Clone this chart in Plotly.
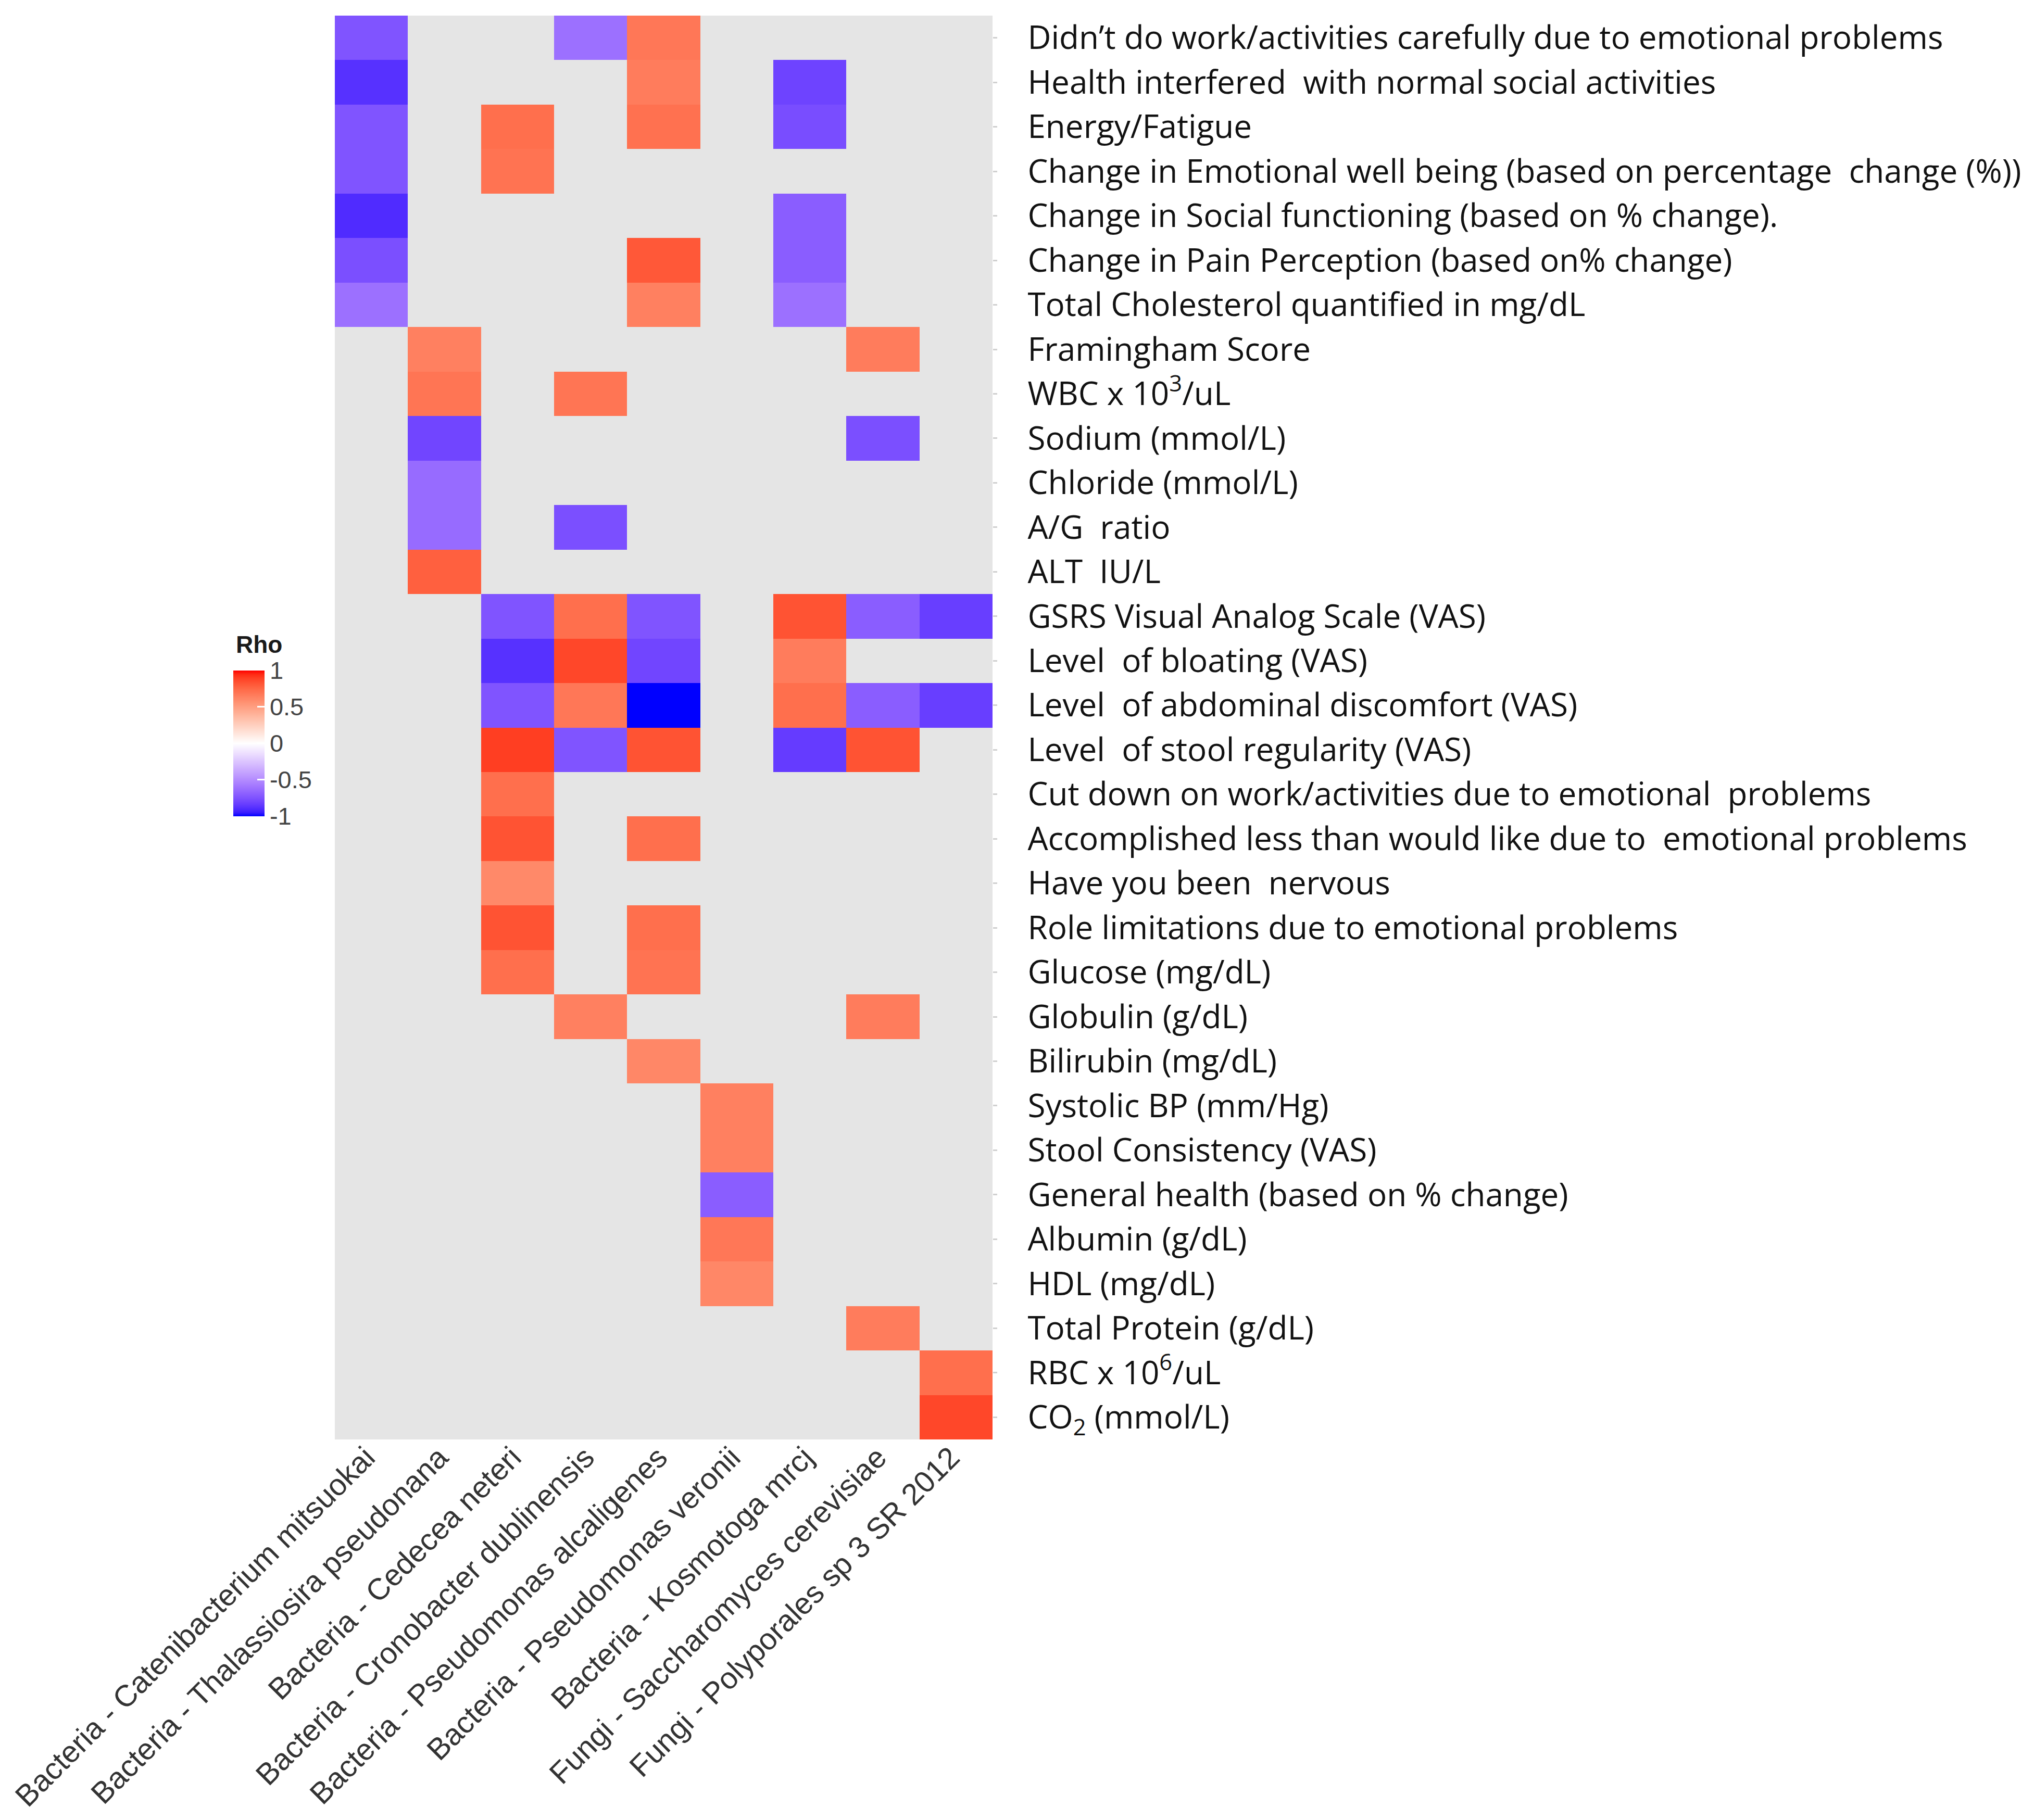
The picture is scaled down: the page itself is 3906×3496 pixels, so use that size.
import numpy as np
import plotly.graph_objects as go

# ---------------- data ----------------
rows = [
    "Didn’t do work/activities carefully due to emotional problems",
    "Health interfered  with normal social activities",
    "Energy/Fatigue",
    "Change in Emotional well being (based on percentage  change (%))",
    "Change in Social functioning (based on % change).",
    "Change in Pain Perception (based on% change)",
    "Total Cholesterol quantified in mg/dL",
    "Framingham Score",
    "WBC x 10<sup>3</sup>/uL",
    "Sodium (mmol/L)",
    "Chloride (mmol/L)",
    "A/G  ratio",
    "ALT  IU/L",
    "GSRS Visual Analog Scale (VAS)",
    "Level  of bloating (VAS)",
    "Level  of abdominal discomfort (VAS)",
    "Level  of stool regularity (VAS)",
    "Cut down on work/activities due to emotional  problems",
    "Accomplished less than would like due to  emotional problems",
    "Have you been  nervous",
    "Role limitations due to emotional problems",
    "Glucose (mg/dL)",
    "Globulin (g/dL)",
    "Bilirubin (mg/dL)",
    "Systolic BP (mm/Hg)",
    "Stool Consistency (VAS)",
    "General health (based on % change)",
    "Albumin (g/dL)",
    "HDL (mg/dL)",
    "Total Protein (g/dL)",
    "RBC x 10<sup>6</sup>/uL",
    "CO<sub>2</sub> (mmol/L)",
]

columns = [
    "Bacteria - Catenibacterium mitsuokai",
    "Bacteria - Thalassiosira pseudonana",
    "Bacteria - Cedecea neteri",
    "Bacteria - Cronobacter dublinensis",
    "Bacteria - Pseudomonas alcaligenes",
    "Bacteria - Pseudomonas veronii",
    "Bacteria - Kosmotoga mrcj",
    "Fungi - Saccharomyces cerevisiae",
    "Fungi - Polyporales sp 3 SR 2012",
]

colorbar_ticks = [-1, -0.5, 0, 0.5, 1]
colorbar_ticktext = ["-1", "-0.5", "0", "0.5", "1"]

N = None
# rho values per microbe, one entry per row above (None = not significant)
catenibacterium = [-0.74, -0.88, -0.74, -0.74, -0.90, -0.76, -0.62, N, N, N, N, N, N, N, N, N,
                   N, N, N, N, N, N, N, N, N, N, N, N, N, N, N, N]
thalassiosira = [N, N, N, N, N, N, N, 0.64, 0.69, -0.80, -0.64, -0.64, 0.78, N, N, N,
                 N, N, N, N, N, N, N, N, N, N, N, N, N, N, N, N]
cedecea = [N, N, 0.72, 0.70, N, N, N, N, N, N, N, N, N, -0.74, -0.88, -0.74,
           0.90, 0.72, 0.83, 0.60, 0.83, 0.72, N, N, N, N, N, N, N, N, N, N]
cronobacter = [-0.62, N, N, N, N, N, N, N, 0.69, N, N, -0.76, N, 0.72, 0.87, 0.68,
               -0.74, N, N, N, N, N, 0.64, N, N, N, N, N, N, N, N, N]
ps_alcaligenes = [0.68, 0.66, 0.71, N, N, 0.81, 0.64, N, N, N, N, N, N, -0.74, -0.80, -1.00,
                  0.83, N, 0.72, N, 0.72, 0.70, N, 0.61, N, N, N, N, N, N, N, N]
ps_veronii = [N, N, N, N, N, N, N, N, N, N, N, N, N, N, N, N,
              N, N, N, N, N, N, N, N, 0.64, 0.64, -0.70, 0.68, 0.61, N, N, N]
kosmotoga = [N, -0.81, -0.77, N, -0.70, -0.70, -0.62, N, N, N, N, N, N, 0.83, 0.66, 0.72,
             -0.84, N, N, N, N, N, N, N, N, N, N, N, N, N, N, N]
saccharomyces = [N, N, N, N, N, N, N, 0.66, N, -0.76, N, N, N, -0.70, N, -0.70,
                 0.83, N, N, N, N, N, 0.66, N, N, N, N, N, N, 0.66, N, N]
polyporales = [N, N, N, N, N, N, N, N, N, N, N, N, N, -0.83, N, -0.83,
               N, N, N, N, N, N, N, N, N, N, N, N, N, N, 0.72, 0.87]

series = [catenibacterium, thalassiosira, cedecea, cronobacter, ps_alcaligenes,
          ps_veronii, kosmotoga, saccharomyces, polyporales]

z = np.array([[np.nan if v is None else v for v in col] for col in series]).T  # rows x cols

# ---------------- colour scale: blue - white - red, interpolated in CIELAB ----------------
def srgb_to_lab(rgb):
    c = np.array(rgb, dtype=float) / 255.0
    c = np.where(c <= 0.04045, c / 12.92, ((c + 0.055) / 1.055) ** 2.4)
    M = np.array([[0.4124, 0.3576, 0.1805], [0.2126, 0.7152, 0.0722], [0.0193, 0.1192, 0.9505]])
    xyz = M @ c
    xyz = xyz / np.array([0.95047, 1.0, 1.08883])
    f = np.where(xyz > 0.008856, np.cbrt(xyz), 7.787 * xyz + 16 / 116)
    return np.array([116 * f[1] - 16, 500 * (f[0] - f[1]), 200 * (f[1] - f[2])])


def lab_to_srgb(lab):
    L, a, b = lab
    fy = (L + 16) / 116
    fx = fy + a / 500
    fz = fy - b / 200
    f = np.array([fx, fy, fz])
    xyz = np.where(f ** 3 > 0.008856, f ** 3, (f - 16 / 116) / 7.787) * np.array([0.95047, 1.0, 1.08883])
    Minv = np.array([[3.2406, -1.5372, -0.4986], [-0.9689, 1.8758, 0.0415], [0.0557, -0.2040, 1.0570]])
    c = np.clip(Minv @ xyz, 0, 1)
    c = np.where(c <= 0.0031308, 12.92 * c, 1.055 * c ** (1 / 2.4) - 0.055)
    r, g, bb = (np.clip(c, 0, 1) * 255).round().astype(int)
    return f"rgb({r},{g},{bb})"


lab_low = srgb_to_lab((0, 0, 255))
lab_mid = srgb_to_lab((255, 255, 255))
lab_high = srgb_to_lab((255, 0, 0))
colorscale = []
for s in np.linspace(0, 1, 41):
    if s < 0.5:
        t = s / 0.5
        lab = lab_low + (lab_mid - lab_low) * t
    else:
        t = (s - 0.5) / 0.5
        lab = lab_mid + (lab_high - lab_mid) * t
    colorscale.append([float(s), lab_to_srgb(lab)])

# ---------------- figure ----------------
fig = go.Figure(
    go.Heatmap(
        z=z,
        x=columns,
        y=rows,
        zmin=-1,
        zmax=1,
        colorscale=colorscale,
        hoverongaps=False,
        colorbar=dict(
            thickness=60,
            thicknessmode="pixels",
            len=280,
            lenmode="pixels",
            x=-0.1544,
            xanchor="left",
            y=0.4377,
            yanchor="bottom",
            xpad=0,
            ypad=0,
            outlinewidth=0,
            tickvals=colorbar_ticks,
            ticktext=colorbar_ticktext,
            ticks="inside",
            ticklen=14,
            tickcolor="white",
            tickwidth=3,
            tickfont=dict(size=47, family="Liberation Sans", color="#444444"),
        ),
    )
)

fig.add_annotation(
    text="<b>Rho</b>",
    xref="paper", yref="paper",
    x=-0.152, y=0.5583,
    xanchor="left", yanchor="middle",
    showarrow=False,
    font=dict(size=46, family="Liberation Sans", color="#1a1a1a"),
)

fig.update_layout(
    width=3890,
    height=3480,
    autosize=False,
    margin=dict(l=635, r=1992, t=22, b=723),
    paper_bgcolor="white",
    plot_bgcolor="#E5E5E5",
    xaxis=dict(
        automargin=False,
        tickangle=-45,
        tickfont=dict(size=58, family="Liberation Sans", color="#333333"),
        showgrid=False,
        zeroline=False,
        showline=False,
        ticks="",
        ticklen=0,
        ticklabelstandoff=-12,
        ticklabelshift=-10,
    ),
    yaxis=dict(
        automargin=False,
        side="right",
        autorange="reversed",
        tickfont=dict(size=62, family="Open Sans", color="#111111"),
        showgrid=False,
        zeroline=False,
        showline=False,
        ticks="outside",
        ticklen=8,
        tickcolor="#D0D0D0",
        tickwidth=3,
        ticklabelstandoff=46,
    ),
)

fig.write_html("out.html")
